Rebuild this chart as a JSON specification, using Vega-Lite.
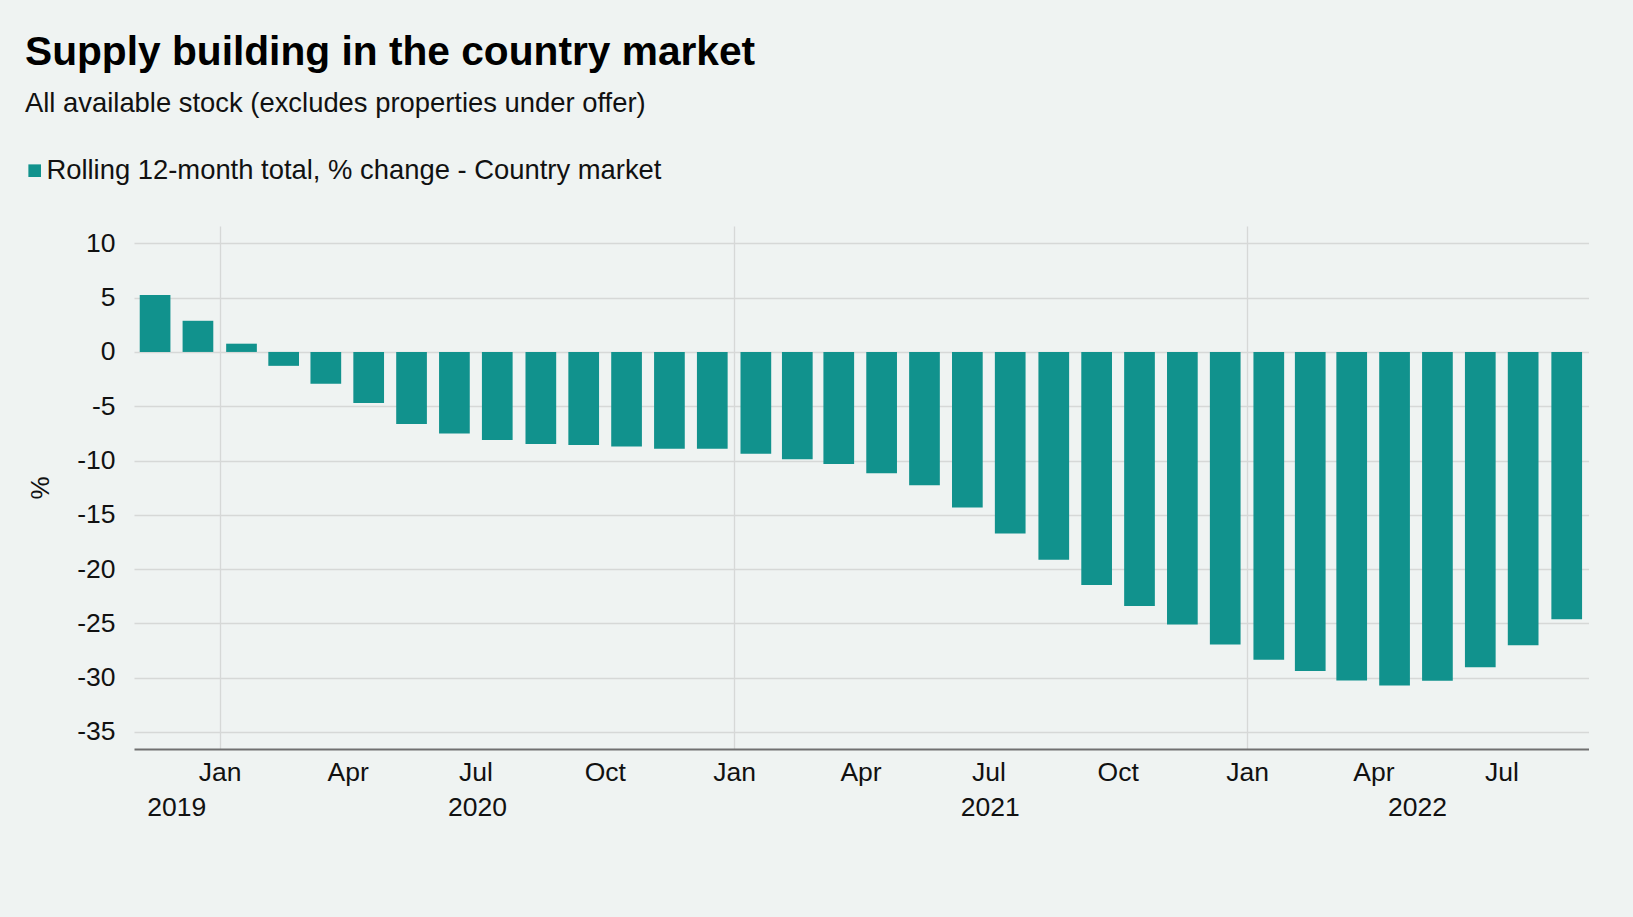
{
  "$schema": "https://vega.github.io/schema/vega-lite/v6.json",
  "width": 1454.5,
  "height": 523,
  "autosize": {"type": "none"},
  "padding": {"left": 134, "top": 226, "right": 44.5, "bottom": 168},
  "background": "#EFF3F2",
  "title": {
    "text": "Supply building in the country market",
    "subtitle": "All available stock (excludes properties under offer)",
    "anchor": "start",
    "frame": "group",
    "dx": -109,
    "offset": 39,
    "font": "Liberation Sans",
    "fontSize": 40.7,
    "fontWeight": "bold",
    "color": "#000000",
    "subtitleFont": "Liberation Sans",
    "subtitleFontSize": 27.4,
    "subtitleColor": "#111111",
    "subtitlePadding": 16
  },
  "data": {
    "values": [
      {"date": "2019-11-01", "value": 5.24},
      {"date": "2019-12-01", "value": 2.87},
      {"date": "2020-01-01", "value": 0.76},
      {"date": "2020-02-01", "value": -1.28},
      {"date": "2020-03-01", "value": -2.93},
      {"date": "2020-04-01", "value": -4.70},
      {"date": "2020-05-01", "value": -6.64},
      {"date": "2020-06-01", "value": -7.50},
      {"date": "2020-07-01", "value": -8.12},
      {"date": "2020-08-01", "value": -8.49},
      {"date": "2020-09-01", "value": -8.58},
      {"date": "2020-10-01", "value": -8.70},
      {"date": "2020-11-01", "value": -8.92},
      {"date": "2020-12-01", "value": -8.92},
      {"date": "2021-01-01", "value": -9.38},
      {"date": "2021-02-01", "value": -9.88},
      {"date": "2021-03-01", "value": -10.31},
      {"date": "2021-04-01", "value": -11.18},
      {"date": "2021-05-01", "value": -12.27},
      {"date": "2021-06-01", "value": -14.33},
      {"date": "2021-07-01", "value": -16.72},
      {"date": "2021-08-01", "value": -19.14},
      {"date": "2021-09-01", "value": -21.47},
      {"date": "2021-10-01", "value": -23.40},
      {"date": "2021-11-01", "value": -25.11},
      {"date": "2021-12-01", "value": -26.94},
      {"date": "2022-01-01", "value": -28.34},
      {"date": "2022-02-01", "value": -29.38},
      {"date": "2022-03-01", "value": -30.25},
      {"date": "2022-04-01", "value": -30.71},
      {"date": "2022-05-01", "value": -30.28},
      {"date": "2022-06-01", "value": -29.04},
      {"date": "2022-07-01", "value": -27.02},
      {"date": "2022-08-01", "value": -24.63}
    ]
  },
  "mark": {"type": "bar", "width": 30.7},
  "encoding": {
    "x": {
      "field": "date",
      "type": "temporal",
      "timeUnit": "utcyearmonth",
      "bandPosition": 0.5,
      "title": null,
      "scale": {
        "domain": [
          {"year": 2019, "month": 11, "date": 1, "utc": true},
          {"year": 2022, "month": 9, "date": 1, "utc": true}
        ]
      },
      "axis": {
        "values": [
          {"year": 2019, "month": 12, "date": 1, "utc": true},
          {"year": 2020, "month": 1, "date": 1, "utc": true},
          {"year": 2020, "month": 4, "date": 1, "utc": true},
          {"year": 2020, "month": 7, "date": 1, "utc": true},
          {"year": 2020, "month": 7, "date": 2, "utc": true},
          {"year": 2020, "month": 10, "date": 1, "utc": true},
          {"year": 2021, "month": 1, "date": 1, "utc": true},
          {"year": 2021, "month": 4, "date": 1, "utc": true},
          {"year": 2021, "month": 7, "date": 1, "utc": true},
          {"year": 2021, "month": 7, "date": 2, "utc": true},
          {"year": 2021, "month": 10, "date": 1, "utc": true},
          {"year": 2022, "month": 1, "date": 1, "utc": true},
          {"year": 2022, "month": 4, "date": 1, "utc": true},
          {"year": 2022, "month": 5, "date": 2, "utc": true},
          {"year": 2022, "month": 7, "date": 1, "utc": true}
        ],
        "labelExpr": "utcdate(datum.value) == 1 && utcmonth(datum.value) % 3 == 0 ? utcFormat(datum.value, '%b') : ['', utcFormat(datum.value, '%Y')]",
        "labelOverlap": false,
        "labelFlush": false,
        "labelPadding": 10,
        "labelLineHeight": 35.5,
        "labelBaseline": "top",
        "ticks": false,
        "grid": true,
        "gridColor": {
          "condition": {"test": "utcmonth(datum.value) == 0 && utcdate(datum.value) == 1", "value": "#D6D8D7"},
          "value": "transparent"
        },
        "gridWidth": 1.3,
        "domainColor": "#707070",
        "domainWidth": 2
      }
    },
    "y": {
      "field": "value",
      "type": "quantitative",
      "scale": {"domain": [-36.57, 11.6], "nice": false},
      "axis": {
        "values": [-35, -30, -25, -20, -15, -10, -5, 0, 5, 10],
        "labelExpr": "datum.value + ''",
        "title": "%",
        "titleX": -94,
        "titleY": 261.5,
        "titleAngle": -90,
        "titleBaseline": "middle",
        "titleAlign": "center",
        "titleFontSize": 26,
        "titleFontWeight": "normal",
        "titleFont": "Liberation Sans",
        "titleColor": "#111111",
        "domain": false,
        "ticks": false,
        "labelPadding": 19,
        "gridColor": "#D6D8D7",
        "gridWidth": 1.3
      }
    },
    "color": {
      "datum": "Rolling 12-month total, % change - Country market",
      "type": "nominal",
      "scale": {"range": ["#11928D"]},
      "legend": {
        "orient": "none",
        "legendX": -113,
        "legendY": -69,
        "title": null,
        "symbolType": "square",
        "symbolSize": 160,
        "symbolStrokeWidth": 0,
        "labelFont": "Liberation Sans",
        "labelFontSize": 27.4,
        "labelColor": "#111111",
        "labelOffset": -2,
        "labelLimit": 0,
        "padding": 0
      }
    }
  },
  "config": {
    "view": {"stroke": null},
    "axis": {
      "labelFont": "Liberation Sans",
      "labelFontSize": 26.5,
      "labelColor": "#111111"
    }
  }
}
